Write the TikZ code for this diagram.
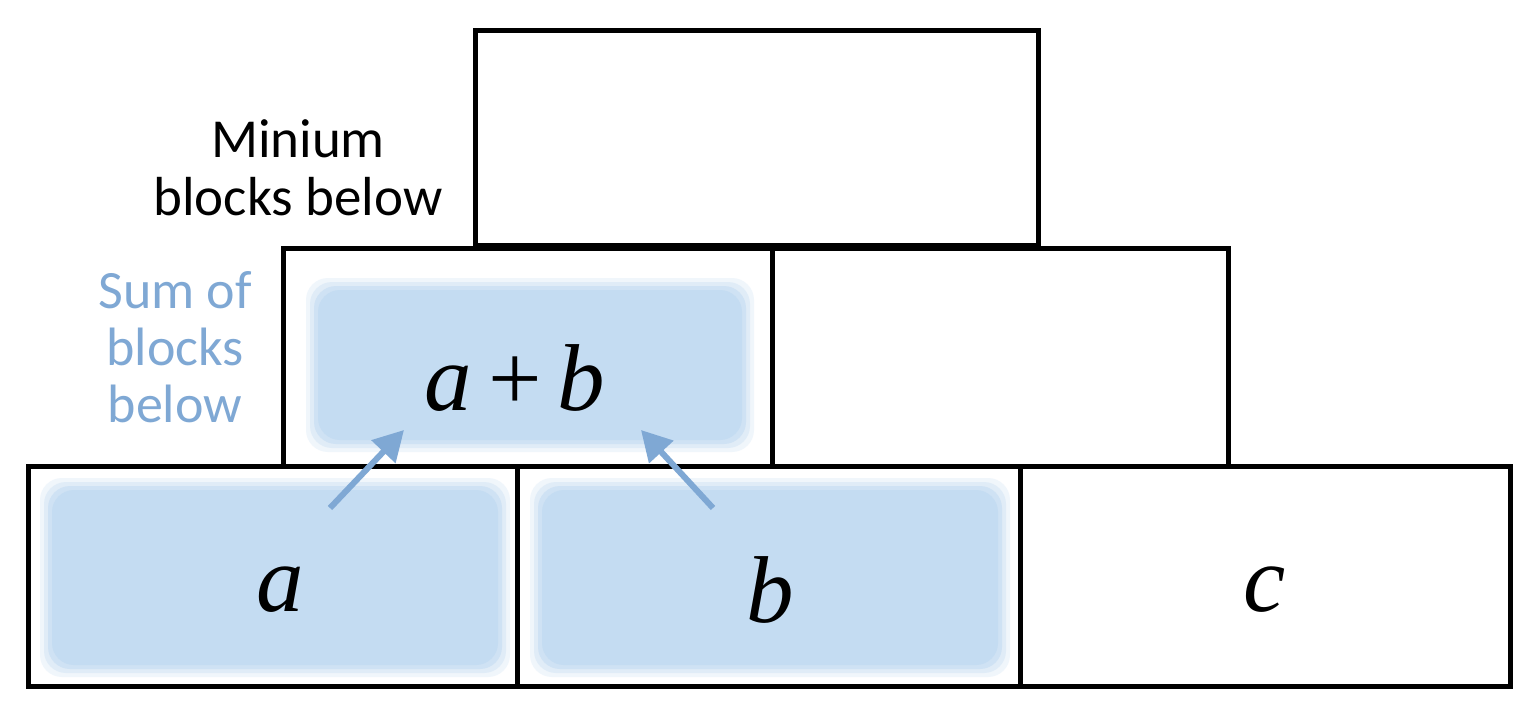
\documentclass[tikz,border=0pt]{standalone}
\usepackage{fontspec}
\setmainfont{Liberation Serif}
\newfontfamily\lab{Carlito}
\usetikzlibrary{arrows.meta}
\begin{document}
\begin{tikzpicture}[x=1pt,y=-1pt,
 blk/.style={draw=black,line width=5pt,fill=white},
 mathlbl/.style={font=\fontsize{95}{100}\selectfont\itshape},
 arr/.style={draw=arrblue,line width=6pt,-{Triangle[length=30pt,width=32pt]}}]
\definecolor{shadeblue}{HTML}{C4DCF2}
\definecolor{arrblue}{HTML}{7FA8D4}
\definecolor{txtblue}{HTML}{7FA8D4}
\useasboundingbox (0,0) rectangle (1531,704);
\draw[blk] (475,30) rectangle (1038,245);
\draw[blk] (283,248) rectangle (772,466);
\draw[blk] (772,248) rectangle (1228,466);
\draw[blk] (28,466) rectangle (517,686);
\draw[blk] (517,466) rectangle (1020,686);
\draw[blk] (1020,466) rectangle (1510,686);
\foreach \o/\k in {12/0.25,8/0.35,4/0.6,0/1}{
 \fill[shadeblue,opacity=\k,rounded corners=22pt] (318-\o,290-\o) rectangle (742+\o,440+\o);
 \fill[shadeblue,opacity=\k,rounded corners=22pt] (52-\o,490-\o) rectangle (498+\o,665+\o);
 \fill[shadeblue,opacity=\k,rounded corners=22pt] (542-\o,490-\o) rectangle (998+\o,665+\o);
}
\node[mathlbl] (ab) at (515,378) {a\,\upshape+\,\itshape b};
\node[mathlbl] (a) at (280,590) {a};
\node[mathlbl] (b) at (770,590) {b};
\node[mathlbl] (c) at (1265,590) {c};
\node[font=\lab\fontsize{55}{58}\selectfont,align=center] (min) at (298,168) {Minium\\blocks below};
\node[font=\lab\fontsize{54}{57}\selectfont,align=center,text=txtblue] (sum) at (175,347) {Sum of\\blocks\\below};
\coordinate (s1) at (330,508); \coordinate (e1) at (404,430);
\coordinate (s2) at (713,508); \coordinate (e2) at (641,430);
\draw[arr] (s1) -- (e1);
\draw[arr] (s2) -- (e2);
\end{tikzpicture}
\end{document}
